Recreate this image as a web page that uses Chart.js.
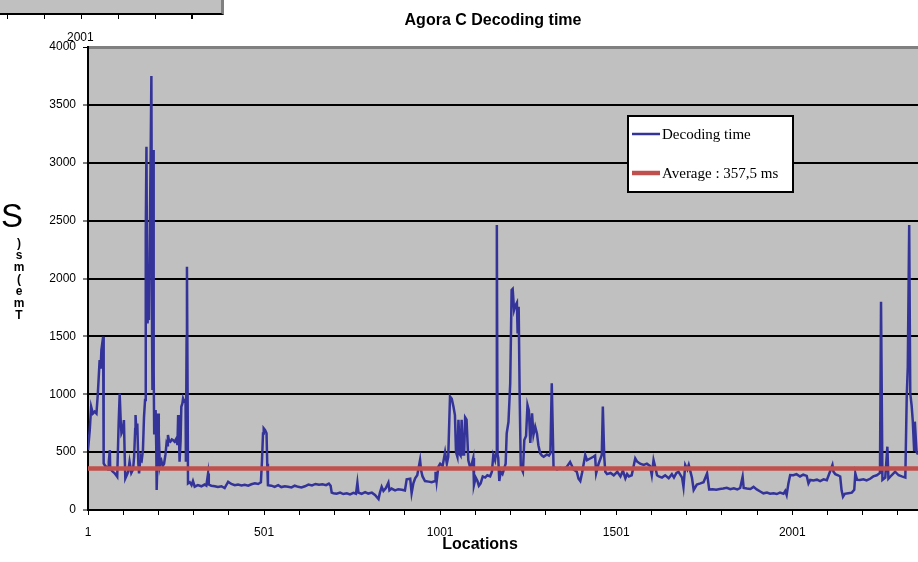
<!DOCTYPE html>
<html>
<head>
<meta charset="utf-8">
<title>Agora C Decoding time</title>
<script src="https://cdn.jsdelivr.net/npm/chart.js@4.4.1/dist/chart.umd.min.js"></script>
<style>
  html, body { margin: 0; padding: 0; background: #fff; overflow: hidden; }
  #wrap { position: relative; width: 918px; height: 562px; font-family: "Liberation Sans", Arial, sans-serif; color: #000; }
  #chart { position: absolute; left: 0; top: 0; }
  .prev-plot { position: absolute; left: 0; top: 0; width: 221px; height: 13px; background: #c0c0c0; border-bottom: 2px solid #000; border-right: 3px solid #808080; }
  .prev-ticks { position: absolute; left: 7px; top: 15px; width: 190px; height: 4px;
    background: repeating-linear-gradient(to right, #000 0 1px, transparent 1px 36.9px); }
  .prev-label { position: absolute; left: 67px; top: 30px; font-size: 12px; }
  .title { position: absolute; left: 493px; top: 11px; transform: translateX(-50%); font-size: 16px; font-weight: bold; white-space: nowrap; }
  .x-title { position: absolute; left: 480px; top: 535px; transform: translateX(-50%); font-size: 16px; font-weight: bold; }
  .y-big { position: absolute; left: 1px; top: 198px; font-size: 33px; line-height: 36px; }
  .y-stack { position: absolute; left: 12px; top: 238px; width: 14px; text-align: center; font-size: 12px; font-weight: bold; line-height: 11px; }
  .y-stack span { display: block; height: 12px; }
</style>
</head>
<body>
<div id="wrap">
  <canvas id="chart" width="918" height="562"></canvas>
  <div class="prev-plot"></div>
  <div class="prev-ticks"></div>
  <div class="prev-label">2001</div>
  <div class="title">Agora C Decoding time</div>
  <div class="x-title">Locations</div>
  <div class="y-big">S</div>
  <div class="y-stack"><span>)</span><span>s</span><span>m</span><span>(</span><span>e</span><span>m</span><span>T</span></div>
</div>
<script>
// location index along the route
const locations = [
  1, 6, 10, 15, 20, 25, 29, 34, 37, 39,
  44, 45, 46, 50, 53, 58, 60, 63, 64, 67,
  72, 77, 81, 84, 88, 91, 94, 96, 100, 103,
  105, 107, 111, 115, 119, 124, 129, 132, 135, 136,
  139, 141, 144, 146, 149, 151, 154, 157, 160, 163,
  165, 167, 169, 170, 172, 174, 177, 179, 181, 183,
  184, 186, 187, 188, 189, 191, 193, 195, 196, 198,
  200, 202, 205, 207, 209, 213, 217, 221, 224, 226,
  228, 231, 235, 239, 242, 247, 252, 255, 257, 259,
  261, 264, 266, 269, 271, 274, 278, 279, 281, 282,
  284, 285, 290, 295, 299, 304, 313, 323, 332, 337,
  342, 344, 351, 361, 370, 380, 389, 399, 408, 418,
  427, 437, 446, 456, 465, 475, 484, 492, 495, 498,
  500, 504, 508, 510, 512, 522, 531, 541, 550, 560,
  569, 579, 588, 598, 607, 617, 627, 637, 647, 657,
  667, 677, 685, 690,
  693, 698, 707, 717, 726, 736, 745, 755, 762, 766,
  769, 778, 788, 797, 807, 816, 826, 830, 835, 840,
  847, 854, 857, 863, 873, 882, 892, 901, 906, 916,
  920, 925, 930, 936, 944, 947, 951, 958, 968, 977,
  987, 988, 991, 996, 1001, 1008, 1015, 1020, 1024, 1029,
  1034, 1039, 1043, 1046, 1050, 1053, 1057, 1059, 1062, 1066,
  1069, 1072, 1076, 1081, 1086, 1091, 1095, 1097, 1102, 1107,
  1111, 1116, 1122, 1129, 1135, 1143, 1148, 1152, 1157, 1160,
  1162, 1164, 1166, 1169, 1173, 1178, 1183, 1187, 1190, 1195,
  1200, 1204,
  1207, 1211, 1214, 1219, 1221, 1224, 1227, 1230, 1236, 1240,
  1245, 1249, 1253, 1257, 1262, 1266, 1271, 1276, 1280, 1285,
  1290, 1295, 1304, 1310, 1314, 1318, 1323, 1333, 1342, 1352,
  1360, 1370, 1380, 1389, 1394, 1399, 1404, 1413, 1418, 1427,
  1436, 1441, 1444, 1451, 1460, 1463, 1467, 1470, 1475, 1485,
  1494, 1504, 1513, 1520, 1527, 1532, 1537, 1545, 1555, 1560,
  1569, 1579, 1588, 1597, 1602, 1607, 1612, 1617, 1622, 1631,
  1640, 1650, 1659, 1665, 1672, 1678, 1688, 1692, 1697, 1703,
  1707, 1716, 1721, 1730, 1740, 1749, 1759, 1765, 1775, 1785,
  1795,
  1805, 1815, 1825, 1835, 1845, 1853, 1860, 1863, 1872, 1882,
  1891, 1900, 1910, 1919, 1929, 1938, 1948, 1957, 1966, 1976,
  1981, 1985, 1990, 1995, 2004, 2013, 2023, 2032, 2042, 2047,
  2052, 2061, 2071, 2080, 2090, 2099, 2108, 2115, 2118, 2123,
  2131, 2137, 2141, 2145, 2150, 2160, 2170, 2177, 2180, 2185,
  2193, 2203, 2212, 2222, 2231, 2241, 2250, 2253, 2257, 2265,
  2271, 2274, 2283, 2293, 2303, 2312, 2322, 2326, 2329, 2333,
  2336, 2340, 2343, 2347, 2349, 2354, 2358
];

// decoding time in ms at each location above
const decodingMs = [
  518, 690, 892, 834, 850, 834, 1007, 1295, 1220, 1382,
  1497, 1100, 402, 380, 374, 350, 417, 518, 360, 345,
  330, 316, 300, 287, 748, 1007, 760, 662, 690, 777,
  500, 273, 300, 330, 417, 320, 350, 460, 700, 820,
  650, 748, 400, 316, 420, 460, 440, 518, 800, 950,
  2400, 3138, 1800, 1612, 1700, 1641, 2500, 3110, 3749, 1500,
  1036, 2500, 3110, 1200, 662, 700, 863, 500, 172, 400,
  834, 650, 388, 420, 431, 380, 400, 480, 575, 560,
  647, 600, 590, 610, 604, 590, 618, 560, 820, 700,
  417, 600, 892, 920, 964, 940, 950, 417, 1500, 2102,
  900, 230, 240, 215, 250, 201, 215, 205, 220, 210,
  316, 220, 210, 205, 198, 205, 190, 244, 225, 215,
  220, 212, 218, 210, 222, 230, 225, 240, 420, 660,
  705, 690, 662, 400, 215, 210, 200, 215, 198, 205,
  201, 195, 210, 200, 195, 205, 220, 212, 225, 218,
  222, 215, 228, 210,
  150, 145, 140, 150, 138, 145, 135, 148, 140, 236,
  150, 140, 155, 142, 150, 130, 95, 150, 200, 165,
  190, 236, 170, 185, 170, 180, 175, 168, 265, 270,
  145, 230, 273, 300, 432, 340, 290, 250, 245, 240,
  250, 330, 245, 374, 400, 380, 500, 400, 460, 980,
  960, 890, 820, 500, 460, 780, 480, 470, 780, 480,
  480, 800, 780, 430, 370, 400, 450, 215, 280, 250,
  210, 230, 290, 280, 300, 290, 330, 475, 430, 500,
  2462, 480, 450, 250, 330, 310, 360, 400, 662, 760,
  1094, 1900,
  1910, 1728, 1760, 1790, 1526, 1756, 950, 374, 330, 605,
  640, 907, 860, 580, 835, 650, 720, 660, 560, 490,
  470, 460, 480, 470, 490, 1094, 374, 350, 365, 355,
  370, 414, 350, 330, 270, 250, 320, 475, 430, 445,
  460, 470, 316, 400, 475, 893, 460, 330, 310, 320,
  300, 330, 290, 340, 273, 310, 290, 300, 446, 420,
  400, 390, 400, 380, 300, 432, 370, 300, 290, 280,
  300, 275, 310, 280, 320, 330, 280, 200, 389, 350,
  390, 280, 173, 220, 230, 240, 316, 178, 180, 175,
  182,
  185, 192, 180, 188, 178, 190, 288, 190, 185, 182,
  200, 178, 160, 144, 150, 140, 145, 138, 150, 140,
  165, 130, 230, 302, 300, 310, 290, 305, 295, 230,
  260, 255, 262, 250, 265, 258, 331, 389, 330, 310,
  300, 290, 170, 115, 140, 145, 150, 175, 316, 260,
  259, 265, 255, 270, 290, 300, 320, 1800, 260, 280,
  547, 270, 300, 331, 300, 290, 280, 980, 1238, 2462,
  1008, 900, 777, 518, 763, 500, 480
];

const averageMs = 357.5;
const firstLocation = 1;
const lastLocation = 2358;
const xLabelEvery = 500;
const xTickEvery = 100;
const yMax = 4000;
const yStep = 500;

const seriesLabels = ['Decoding time', 'Average : 357,5 ms'];

const BLUE = '#333399';
const RED = '#c0504d';
const TICK_FONT = { family: '"Liberation Sans", Arial, sans-serif', size: 12 };

const xTickValues = [];
for (let v = firstLocation; v <= lastLocation; v += xTickEvery) xTickValues.push(v);

const plotBackground = {
    id: 'plotBackground',
    beforeDraw(chart) {
        const { ctx, chartArea: a } = chart;
        ctx.save();
        ctx.fillStyle = '#c0c0c0';
        ctx.fillRect(a.left, a.top, a.right - a.left, a.bottom - a.top);
        ctx.restore();
    }
};

// boxed legend floating inside the plot, like the Excel one
const boxLegend = {
    id: 'boxLegend',
    afterDraw(chart, args, opts) {
        const { ctx, chartArea: a } = chart;
        const x = a.left + opts.left;
        const y = a.top + opts.top;
        ctx.save();
        ctx.fillStyle = '#fff';
        ctx.fillRect(x, y, opts.width, opts.height);
        ctx.strokeStyle = '#000';
        ctx.lineWidth = 2;
        ctx.strokeRect(x, y, opts.width, opts.height);
        ctx.font = '15px "Liberation Serif", "Times New Roman", serif';
        ctx.textBaseline = 'middle';
        ctx.fillStyle = '#000';
        opts.order.forEach((dsIndex, i) => {
            const ds = chart.data.datasets[dsIndex];
            const cy = y + opts.firstRow + i * opts.rowGap;
            ctx.strokeStyle = ds.borderColor;
            ctx.lineWidth = ds.borderWidth;
            ctx.beginPath();
            ctx.moveTo(x + 4, cy);
            ctx.lineTo(x + 32, cy);
            ctx.stroke();
            ctx.fillText(ds.label, x + 34, cy + 1);
        });
        ctx.restore();
    }
};

new Chart(document.getElementById('chart'), {
    type: 'line',
    data: {
        datasets: [
            {
                label: seriesLabels[1],
                data: [{ x: firstLocation, y: averageMs }, { x: lastLocation, y: averageMs }],
                borderColor: RED,
                borderWidth: 4.5,
                pointRadius: 0,
                order: 0,
            },
            {
                label: seriesLabels[0],
                data: locations.map((loc, i) => ({ x: loc, y: decodingMs[i] })),
                borderColor: BLUE,
                borderWidth: 2.5,
                pointRadius: 0,
                tension: 0,
                order: 1,
            },
        ],
    },
    options: {
        responsive: false,
        animation: false,
        layout: { padding: { top: 47, left: 0, right: 0, bottom: 0 } },
        plugins: {
            legend: { display: false },
            tooltip: { enabled: false },
            boxLegend: { left: 540, top: 69, width: 165, height: 76, firstRow: 18, rowGap: 39, order: [1, 0] },
        },
        scales: {
            x: {
                type: 'linear',
                min: firstLocation,
                max: lastLocation,
                afterBuildTicks: (s) => { s.ticks = xTickValues.map((v) => ({ value: v })); },
                afterFit: (s) => { s.height = 52; },
                ticks: {
                    autoSkip: false,
                    maxRotation: 0,
                    padding: 10,
                    color: '#000',
                    font: TICK_FONT,
                    callback: (v) => ((v - firstLocation) % xLabelEvery === 0 ? String(v) : ''),
                },
                grid: { drawOnChartArea: false, tickLength: 5, tickColor: '#000', tickWidth: 1 },
                border: { color: '#000', width: 2 },
            },
            y: {
                min: 0,
                max: yMax,
                afterFit: (s) => { s.width = 88; },
                ticks: { stepSize: yStep, padding: 7, color: '#000', font: TICK_FONT, callback: (v) => String(v) },
                grid: {
                    color: (ctx) => (ctx.tick && ctx.tick.value === yMax ? '#808080' : '#000'),
                    lineWidth: (ctx) => (ctx.tick && ctx.tick.value === yMax ? 3 : 2),
                    tickLength: 5,
                    tickColor: '#000',
                    tickWidth: 1,
                },
                border: { color: '#000', width: 2 },
            },
        },
    },
    plugins: [plotBackground, boxLegend],
});
</script>
</body>
</html>
